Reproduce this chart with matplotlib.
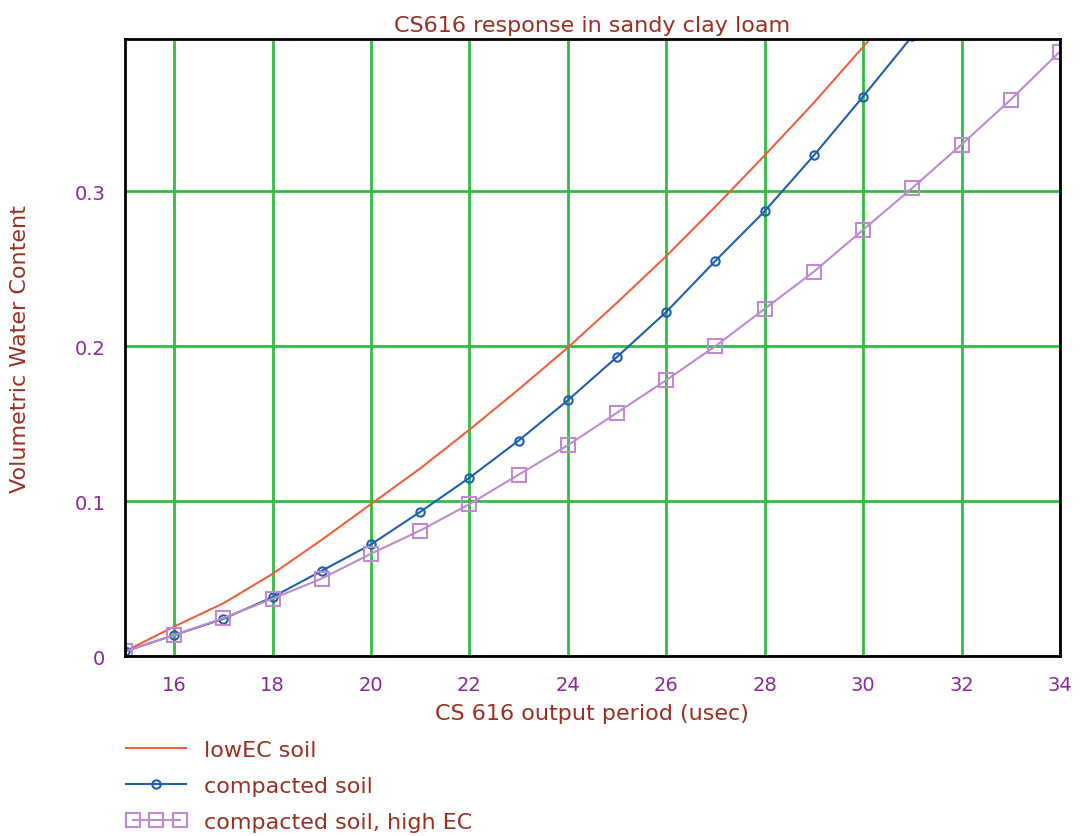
import matplotlib.pyplot as plt
from matplotlib.legend_handler import HandlerLine2D
from matplotlib.ticker import FuncFormatter

# CS616 output period (usec) vs volumetric water content
period_low = [15, 16, 17, 18, 19, 20, 21, 22, 23, 24, 25, 26, 27, 28, 29, 30, 31]
vwc_low = [0.003, 0.019, 0.034, 0.053, 0.075, 0.098, 0.121, 0.146, 0.172, 0.199,
           0.228, 0.258, 0.290, 0.323, 0.357, 0.393, 0.430]

period_comp = [15, 16, 17, 18, 19, 20, 21, 22, 23, 24, 25, 26, 27, 28, 29, 30, 31]
vwc_comp = [0.003, 0.0135, 0.024, 0.038, 0.055, 0.072, 0.093, 0.115, 0.139, 0.165,
            0.193, 0.222, 0.255, 0.287, 0.323, 0.361, 0.400]

period_high = [15, 16, 17, 18, 19, 20, 21, 22, 23, 24, 25, 26, 27, 28, 29, 30, 31,
               32, 33, 34]
vwc_high = [0.003, 0.0135, 0.0245, 0.037, 0.050, 0.066, 0.081, 0.098, 0.117, 0.136,
            0.157, 0.178, 0.200, 0.224, 0.248, 0.275, 0.302, 0.330, 0.359, 0.390]

x_ticks = [16, 18, 20, 22, 24, 26, 28, 30, 32, 34]
y_ticks = [0, 0.1, 0.2, 0.3]

RED = "#f0603c"
BLUE = "#1f5fb0"
PURPLE = "#c08ad0"
GRID = "#33bb44"
TICK_COLOR = "#8a2a9a"
TEXT_COLOR = "#9a3022"

fig = plt.figure(figsize=(10.86, 8.37), dpi=100)
ax = fig.add_axes([0.115, 0.215, 0.861, 0.737])

line_low, = ax.plot(period_low, vwc_low, color=RED, lw=1.5, label="lowEC soil")
line_comp, = ax.plot(period_comp, vwc_comp, color=BLUE, lw=1.5, marker="o",
                     markersize=6, markerfacecolor="none", markeredgewidth=1.5,
                     label="compacted soil")
line_high, = ax.plot(period_high, vwc_high, color=PURPLE, lw=1.5, marker="s",
                     markersize=10, markerfacecolor="none", markeredgewidth=1.5,
                     label="compacted soil, high EC")

ax.set_xlim(15, 34)
ax.set_ylim(0, 0.398)
ax.set_xticks(x_ticks)
ax.set_yticks(y_ticks)
ax.yaxis.set_major_formatter(FuncFormatter(lambda v, p: "0" if v == 0 else f"{v:.1f}"))
ax.grid(True, color=GRID, lw=2)
ax.set_axisbelow(True)
ax.tick_params(length=0, labelsize=14, colors=TICK_COLOR)
ax.tick_params(axis="x", pad=14)
ax.tick_params(axis="y", pad=14)
for spine in ax.spines.values():
    spine.set_linewidth(2)
    spine.set_color("black")

ax.set_title("CS616 response in sandy clay loam", color=TEXT_COLOR, fontsize=16, pad=6)
ax.set_xlabel("CS 616 output period (usec)", color=TEXT_COLOR, fontsize=16, labelpad=6)
ax.set_ylabel("Volumetric Water Content", color=TEXT_COLOR, fontsize=16, labelpad=32)

fig.legend(handles=[line_low, line_comp, line_high],
           loc="upper left", bbox_to_anchor=(0.098, 0.139), frameon=False,
           fontsize=16, handlelength=2.7, labelspacing=0.72, handletextpad=0.8,
           numpoints=1, labelcolor=TEXT_COLOR,
           handler_map={line_high: HandlerLine2D(numpoints=3)})

fig.savefig("out.png", dpi=100)
